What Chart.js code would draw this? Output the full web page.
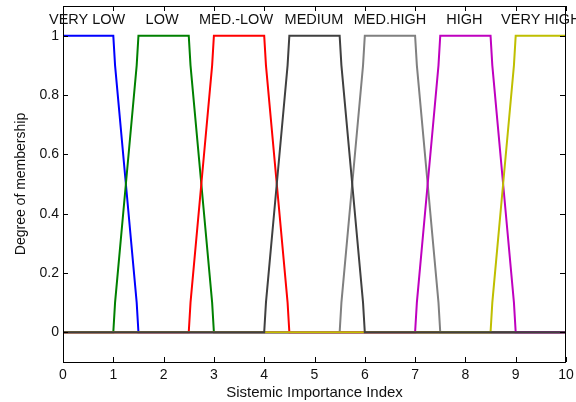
<!DOCTYPE html>
<html>
<head>
<meta charset="utf-8">
<script src="https://cdn.jsdelivr.net/npm/chart.js@4.4.1/dist/chart.umd.min.js"></script>
<style>
  html, body { margin: 0; padding: 0; background: #fff; }
  #wrap { width: 576px; height: 402px; }
</style>
</head>
<body>
<div id="wrap"><canvas id="c" width="576" height="402"></canvas></div>
<script>
// ---- data ----
const setNames = ["VERY LOW", "LOW", "MED.-LOW", "MEDIUM", "MED.HIGH", "HIGH", "VERY HIGH"];
const setColors = ["#0000ff", "#008000", "#ff0000", "#404040", "#808080", "#bf00bf", "#bfbf00"];
const drawOrder = [6, 5, 4, 0, 3, 2, 1];
const labelCenters = [0.48, 1.97, 3.44, 4.99, 6.5, 7.98, 9.5];
const labelLevel = 1.053;

const xVeryLow  = [0, 1, 1.035, 1.25, 1.465, 1.5, 10];
const yVeryLow  = [1, 1, 0.9, 0.5, 0.1, 0, 0];
const xLow      = [0, 1, 1.035, 1.25, 1.465, 1.5, 2.5, 2.535, 2.75, 2.965, 3, 10];
const yLow      = [0, 0, 0.1, 0.5, 0.9, 1, 1, 0.9, 0.5, 0.1, 0, 0];
const xMedLow   = [0, 2.5, 2.535, 2.75, 2.965, 3, 4, 4.035, 4.25, 4.465, 4.5, 10];
const yMedLow   = [0, 0, 0.1, 0.5, 0.9, 1, 1, 0.9, 0.5, 0.1, 0, 0];
const xMedium   = [0, 4, 4.035, 4.25, 4.465, 4.5, 5.5, 5.535, 5.75, 5.965, 6, 10];
const yMedium   = [0, 0, 0.1, 0.5, 0.9, 1, 1, 0.9, 0.5, 0.1, 0, 0];
const xMedHigh  = [0, 5.5, 5.535, 5.75, 5.965, 6, 7, 7.035, 7.25, 7.465, 7.5, 10];
const yMedHigh  = [0, 0, 0.1, 0.5, 0.9, 1, 1, 0.9, 0.5, 0.1, 0, 0];
const xHigh     = [0, 7, 7.035, 7.25, 7.465, 7.5, 8.5, 8.535, 8.75, 8.965, 9, 10];
const yHigh     = [0, 0, 0.1, 0.5, 0.9, 1, 1, 0.9, 0.5, 0.1, 0, 0];
const xVeryHigh = [0, 8.5, 8.535, 8.75, 8.965, 9, 10];
const yVeryHigh = [0, 0, 0.1, 0.5, 0.9, 1, 1];

const xTicks = [0, 1, 2, 3, 4, 5, 6, 7, 8, 9, 10];
const yTicks = [0, 0.2, 0.4, 0.6, 0.8, 1];

const seriesX = [xVeryLow, xLow, xMedLow, xMedium, xMedHigh, xHigh, xVeryHigh];
const seriesY = [yVeryLow, yLow, yMedLow, yMedium, yMedHigh, yHigh, yVeryHigh];

const FONT = "'Liberation Sans', Arial, Helvetica, sans-serif";

const datasets = setNames.map((name, i) => ({
  label: name,
  data: seriesX[i].map((x, k) => ({ x: x, y: seriesY[i][k] })),
  borderColor: setColors[i],
  backgroundColor: setColors[i],
  borderWidth: 2,
  pointRadius: 0,
  tension: 0,
  fill: false,
  order: drawOrder[i]
}));

const frameAndLabels = {
  id: 'frameAndLabels',
  afterDatasetsDraw(chart) {
    const ctx = chart.ctx;
    const a = chart.chartArea;
    const xs = chart.scales.x, ys = chart.scales.y;
    ctx.save();
    ctx.strokeStyle = '#000';
    ctx.lineWidth = 1;
    const l = Math.round(a.left), t = Math.round(a.top), r = Math.round(a.right), b = Math.round(a.bottom);
    ctx.strokeRect(l + 0.5, t + 0.5, r - l - 1, b - t);
    const L = 5;
    ctx.beginPath();
    xTicks.forEach(v => {
      const px = Math.round(xs.getPixelForValue(v)) + 0.5;
      ctx.moveTo(px, b); ctx.lineTo(px, b - L);
      ctx.moveTo(px, t); ctx.lineTo(px, t + L);
    });
    yTicks.forEach(v => {
      const py = Math.round(ys.getPixelForValue(v)) + 0.5;
      ctx.moveTo(l, py); ctx.lineTo(l + L, py);
      ctx.moveTo(r - 1, py); ctx.lineTo(r - 1 - L, py);
    });
    ctx.stroke();
    ctx.fillStyle = '#111';
    ctx.font = '14.5px ' + FONT;
    ctx.textAlign = 'center';
    ctx.textBaseline = 'middle';
    const ly = ys.getPixelForValue(labelLevel);
    setNames.forEach((n, i) => {
      ctx.fillText(n, xs.getPixelForValue(labelCenters[i]), ly);
    });
    ctx.restore();
  }
};

function zeroPad(s) { s.paddingLeft = 0; s.paddingRight = 0; s.paddingTop = 0; s.paddingBottom = 0; }

new Chart(document.getElementById('c'), {
  type: 'line',
  data: { datasets: datasets },
  plugins: [frameAndLabels],
  options: {
    responsive: false,
    animation: false,
    devicePixelRatio: 1,
    layout: { padding: { top: 6, right: 10, left: 0, bottom: 0 } },
    plugins: { legend: { display: false }, tooltip: { enabled: false } },
    scales: {
      x: {
        type: 'linear',
        min: 0, max: 10,
        afterBuildTicks: s => { s.ticks = xTicks.map(v => ({ value: v })); },
        afterFit: s => { s.height = 40; zeroPad(s); },
        grid: { display: false, drawTicks: false },
        border: { display: false },
        ticks: { color: '#111', font: { family: FONT, size: 14 }, padding: 5, maxRotation: 0, autoSkip: false },
        title: { display: true, text: 'Sistemic Importance Index', color: '#111',
                 font: { family: FONT, size: 15 }, padding: { top: 0, bottom: 0 } }
      },
      y: {
        type: 'linear',
        min: -0.1, max: 1.1,
        afterBuildTicks: s => { s.ticks = yTicks.map(v => ({ value: v })); },
        afterFit: s => { s.width = 63; zeroPad(s); },
        grid: { display: false, drawTicks: false },
        border: { display: false },
        ticks: { color: '#111', font: { family: FONT, size: 14 }, padding: 4, autoSkip: false,
                 callback: v => String(Math.round(v * 10) / 10) },
        title: { display: true, text: 'Degree of membership', color: '#111',
                 font: { family: FONT, size: 14 }, padding: { top: 12.6, bottom: 0 } }
      }
    }
  }
});
</script>
</body>
</html>
